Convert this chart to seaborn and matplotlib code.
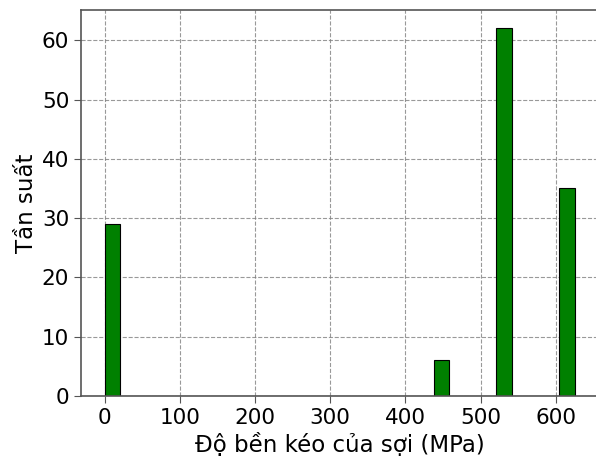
import matplotlib
matplotlib.use("Agg")
import matplotlib.pyplot as plt
import seaborn as sns
import pandas as pd

# Data
strength_values = [0, 450, 530, 625]   # representative strengths (MPa)
frequencies = [29, 6, 62, 35]           # counts in each occupied bin
n_bins = 30
x_label = "Độ bền kéo của sợi (MPa)"
y_label = "Tần suất"

df = pd.DataFrame({"strength": strength_values, "count": frequencies})

plt.rcParams['font.family'] = ['DejaVu Sans']
fig = plt.figure(figsize=(5.96, 4.67), dpi=100)
ax = fig.add_axes([81/596, 1 - 396/467, (598 - 81)/596, (396 - 10)/467])

sns.histplot(data=df, x="strength", weights="count", bins=n_bins,
             color="green", edgecolor="black", linewidth=0.8, alpha=1.0, ax=ax)

ax.set_axisbelow(True)
ax.grid(True, linestyle="--", color="gray", alpha=0.8, linewidth=0.8)
ax.set_xlabel(x_label, fontsize=16.5, labelpad=4)
ax.set_ylabel(y_label, fontsize=16.5, labelpad=3)
ax.tick_params(axis="both", labelsize=15.5, length=5, color="#555555")
ax.set_xticks([0, 100, 200, 300, 400, 500, 600])
for s in ax.spines.values():
    s.set_color("#555555")
    s.set_linewidth(1.2)

fig.savefig("out.png", dpi=100)
